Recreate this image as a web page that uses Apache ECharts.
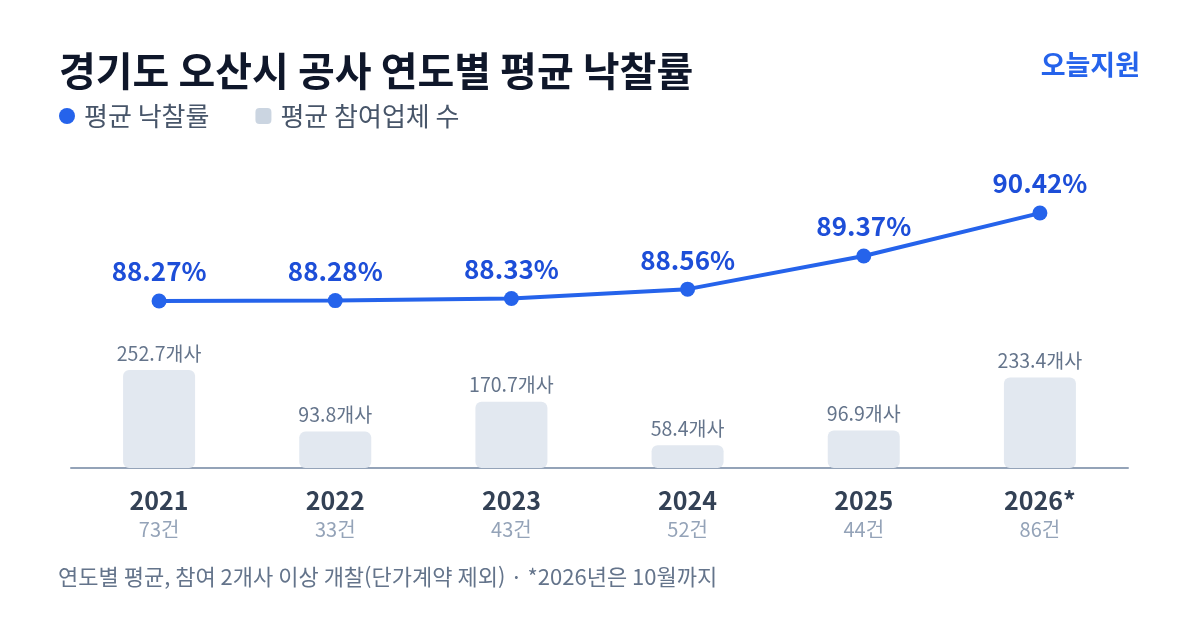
<!DOCTYPE html>
<html lang="ko">
<head>
    <meta charset="utf-8">
    <title>경기도 오산시 공사 연도별 평균 낙찰률</title>
    <script src="https://cdn.jsdelivr.net/npm/echarts@6/dist/echarts.min.js"></script>
    <style>
        html, body { margin: 0; padding: 0; background: #fff; }
        #chart { width: 1200px; height: 630px; }
    </style>
</head>
<body>
<div id="chart"></div>
<script>
    // 데이터
    var years = ['2021', '2022', '2023', '2024', '2025', '2026*'];
    var counts = [73, 33, 43, 52, 44, 86];
    var rates = [88.27, 88.28, 88.33, 88.56, 89.37, 90.42];
    var bidders = [252.7, 93.8, 170.7, 58.4, 96.9, 233.4];

    var FONT = '"Noto Sans CJK KR", "Noto Sans", sans-serif';

    var myChart = echarts.init(document.getElementById('chart'));
    myChart.setOption({
        backgroundColor: '#ffffff',
        textStyle: { fontFamily: FONT },
        title: [
            {
                text: '경기도 오산시 공사 연도별 평균 낙찰률',
                left: 54,
                top: 46,
                textStyle: { fontFamily: FONT, fontSize: 40, fontWeight: 'bold', color: '#0f172a' }
            },
            {
                text: '오늘지원',
                right: 55,
                top: 46,
                textStyle: { fontFamily: FONT, fontSize: 27, fontWeight: 'bold', color: '#2563eb' }
            },
            {
                text: '연도별 평균, 참여 2개사 이상 개찰(단가계약 제외) · *2026년은 10월까지',
                left: 53,
                top: 561,
                textStyle: { fontFamily: FONT, fontSize: 22, fontWeight: 'normal', color: '#64748b' }
            }
        ],
        legend: {
            left: 54,
            top: 98,
            itemWidth: 16,
            itemHeight: 16,
            itemGap: 46,
            textStyle: { fontFamily: FONT, fontSize: 26, color: '#475569', padding: [0, 0, 0, 4] },
            data: [
                { name: '평균 낙찰률', icon: 'circle', itemStyle: { color: '#2563eb' } },
                { name: '평균 참여업체 수', icon: 'roundRect', itemStyle: { color: '#cbd5e1' } }
            ]
        },
        grid: { left: 71, right: 72, top: 150, bottom: 162 },
        xAxis: {
            type: 'category',
            data: years,
            axisLine: { lineStyle: { color: '#94a3b8', width: 2 } },
            axisTick: { show: false },
            axisLabel: {
                margin: 16,
                formatter: function (v, i) {
                    return '{y|' + v + '}\n{c|' + counts[i] + '건}';
                },
                rich: {
                    y: { fontFamily: FONT, fontSize: 25, fontWeight: 'bold', color: '#334155', lineHeight: 32 },
                    c: { fontFamily: FONT, fontSize: 20, color: '#94a3b8', lineHeight: 26 }
                }
            }
        },
        yAxis: [
            { type: 'value', min: 0, max: 820, show: false, splitLine: { show: false } },
            { type: 'value', min: 84.187, max: 91.962, show: false, splitLine: { show: false } }
        ],
        series: [
            {
                name: '평균 참여업체 수',
                type: 'bar',
                yAxisIndex: 0,
                data: bidders,
                barWidth: 72,
                itemStyle: { color: '#e2e8f0', borderRadius: 6 },
                label: {
                    show: true,
                    position: 'top',
                    distance: 7,
                    fontFamily: FONT,
                    fontSize: 19.5,
                    color: '#64748b',
                    formatter: function (p) { return p.value.toFixed(1) + '개사'; }
                },
                z: 1
            },
            {
                name: '평균 낙찰률',
                type: 'line',
                yAxisIndex: 1,
                data: rates,
                symbol: 'circle',
                symbolSize: 15,
                lineStyle: { color: '#2563eb', width: 4 },
                itemStyle: { color: '#2563eb' },
                label: {
                    show: true,
                    position: 'top',
                    distance: 9,
                    fontFamily: FONT,
                    fontSize: 26,
                    fontWeight: 'bold',
                    color: '#1d4ed8',
                    formatter: function (p) { return p.value.toFixed(2) + '%'; }
                },
                z: 3
            }
        ]
    });
</script>
</body>
</html>
